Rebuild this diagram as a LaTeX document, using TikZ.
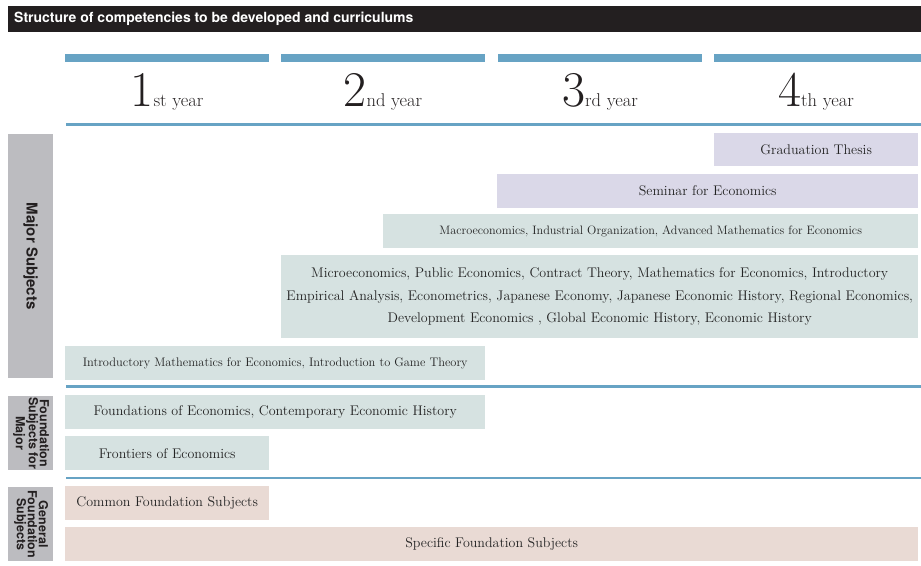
\documentclass[tikz,border=0pt]{standalone}
\usepackage{fontspec}
\newfontfamily\labelsans{TeX Gyre Heros}
\usetikzlibrary{positioning}
\definecolor{barblack}{RGB}{35,31,32}
\definecolor{lineblue}{RGB}{103,163,196}
\definecolor{greenbox}{RGB}{214,226,225}
\definecolor{lavbox}{RGB}{218,216,232}
\definecolor{pinkbox}{RGB}{233,218,212}
\definecolor{greylabel}{RGB}{188,188,192}
\definecolor{txt}{RGB}{35,35,35}
\tikzset{
  subj/.style={anchor=north west, inner sep=0pt, text=txt, font=\fontsize{14}{16}\selectfont, align=center},
  gbox/.style={subj, fill=greenbox},
  lbox/.style={subj, fill=lavbox},
  pbox/.style={subj, fill=pinkbox},
  catlabel/.style={anchor=north west, inner sep=0pt, fill=greylabel},
  cattext/.style={rotate=-90, text=barblack, font=\labelsans\bfseries\fontsize{12.5}{11}\selectfont, align=center, inner sep=0pt},
  yearlbl/.style={anchor=base, inner sep=0pt, text=barblack},
  sepline/.style={draw=lineblue, line width=2.2pt},
  colbar/.style={fill=lineblue, draw=none}
}
\newcommand{\yr}[2]{{\fontsize{50}{50}\selectfont #1}{\fontsize{18.5}{18.5}\selectfont #2 year}}
\begin{document}
\begin{tikzpicture}[x=1pt,y=-1pt]
\useasboundingbox (0,0) rectangle (921,565);
% title bar
\node[anchor=north west, inner sep=0pt, fill=barblack, minimum width=913pt, minimum height=26pt] (title) at (8,6) {};
\node[anchor=west, inner sep=0pt, text=white, font=\labelsans\bfseries\fontsize{14}{16}\selectfont] (titletext) at (14,19) {Structure of competencies to be developed and curriculums};
% column bars
\fill[colbar] (65,54) rectangle (269,62);
\fill[colbar] (281,54) rectangle (485,62);
\fill[colbar] (498,54) rectangle (702,62);
\fill[colbar] (714,54) rectangle (921,62);
% year labels
\node[yearlbl] (y1) at (167,106) {\yr{1}{st}};
\node[yearlbl] (y2) at (383,106) {\yr{2}{nd}};
\node[yearlbl] (y3) at (600,106) {\yr{3}{rd}};
\node[yearlbl] (y4) at (816,106) {\yr{4}{th}};
% separator lines
\draw[sepline] (66,124.5) -- (921,124.5);
\draw[sepline] (66,386.5) -- (921,386.5);
\draw[sepline] (66,478) -- (921,478);
% category labels
\node[catlabel, minimum width=45pt, minimum height=244pt] (major) at (8,134) {};
\node[cattext, font=\labelsans\bfseries\fontsize{15}{15}\selectfont] (majort) at (major.center) {Major Subjects};
\node[catlabel, minimum width=45pt, minimum height=74pt] (found) at (8,396) {};
\node[cattext] (foundt) at ([xshift=0.5pt]found.center) {Foundation\\Subjects for\\Major};
\node[catlabel, minimum width=45pt, minimum height=74pt] (gen) at (8,487) {};
\node[cattext] (gent) at ([xshift=0.5pt]gen.center) {General\\Foundation\\Subjects};
% subject boxes
\node[lbox, minimum width=204pt, minimum height=33pt] (thesis) at (714,133) {Graduation Thesis};
\node[lbox, minimum width=421pt, minimum height=34pt] (seminar) at (497,174) {Seminar for Economics};
\node[gbox, minimum width=535pt, minimum height=34pt, font=\fontsize{12.2}{14}\selectfont] (macro) at (383,214) {Macroeconomics, Industrial Organization, Advanced Mathematics for Economics};
\node[gbox, minimum width=637pt, minimum height=83pt, font=\fontsize{14}{22.5}\selectfont] (micro) at (281,255) {Microeconomics, Public Economics, Contract Theory, Mathematics for Economics, Introductory\\Empirical Analysis, Econometrics, Japanese Economy, Japanese Economic History, Regional Economics,\\Development Economics , Global Economic History, Economic History};
\node[gbox, minimum width=420pt, minimum height=34pt, font=\fontsize{12.4}{14}\selectfont] (intromath) at (65,346) {Introductory Mathematics for Economics, Introduction to Game Theory};
\node[gbox, minimum width=420pt, minimum height=34pt] (foundecon) at (65,395) {Foundations of Economics, Contemporary Economic History};
\node[gbox, minimum width=204pt, minimum height=34pt] (frontiers) at (65,436) {Frontiers of Economics};
\node[pbox, minimum width=204pt, minimum height=34pt] (common) at (65,486) {Common Foundation Subjects};
\node[pbox, minimum width=853pt, minimum height=34pt] (specific) at (65,527) {Specific Foundation Subjects};
\end{tikzpicture}
\end{document}
